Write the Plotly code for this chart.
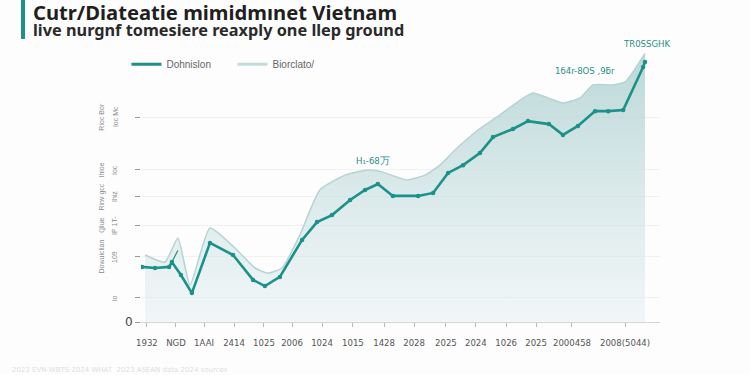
import plotly.graph_objects as go

# ---- data ----
tick_labels = ["1932", "NGD", "1AAI", "2414", "1025", "2006", "1024", "1015",
               "1428", "2028", "2025", "2024", "1026", "2025", "2000458", "2008(5044)"]
tick_pos = [0, 0.93, 1.83, 2.79, 3.75, 4.65, 5.61, 6.60, 7.60, 8.56, 9.58, 10.54,
            11.51, 12.47, 13.62, 15.32]

main_x = [-0.16, 0.26, 0.71, 0.80, 1.09, 1.44, 2.02, 2.76, 3.40, 3.78, 4.26, 4.97,
          5.45, 5.93, 6.51, 6.99, 7.40, 7.88, 8.69, 9.17, 9.65, 10.13, 10.67, 11.09,
          11.73, 12.21, 12.88, 13.33, 13.81, 14.36, 14.78, 15.26, 15.90, 15.96]
main_y = [20.4, 20.0, 20.4, 22.2, 17.4, 10.7, 29.3, 24.8, 15.6, 13.3, 16.7, 30.4,
          37.0, 39.6, 45.2, 48.9, 51.1, 46.7, 46.7, 47.8, 55.2, 58.1, 62.6, 68.5,
          71.5, 74.4, 73.3, 69.3, 72.6, 78.1, 78.1, 78.5, 94.4, 96.3]

band_x = [-0.06, 0.58, 0.99, 1.38, 2.02, 2.82, 3.46, 3.88, 4.33, 4.90, 5.54, 6.35,
          7.08, 7.53, 8.33, 8.91, 9.39, 9.87, 10.61, 11.31, 11.96, 12.37, 12.85,
          13.33, 13.88, 14.29, 14.90, 15.32, 15.96]
band_y = [24.8, 22.2, 31.1, 13.7, 34.8, 27.4, 20.0, 18.1, 20.0, 32.2, 48.9, 54.4,
          56.3, 55.6, 52.6, 54.4, 58.1, 63.7, 71.1, 76.7, 82.2, 84.8, 83.0, 81.1,
          83.0, 87.8, 87.8, 88.9, 99.5]

thin_x = [0.80, 0.99]
thin_y = [22.2, 26.5]

ylab_vals = [75.9, 56.3, 46.3, 35.6, 24.1, 8.9]
ylab_col1 = ["Rioc Bor", "Ihioe", "Rinv gcc", "ℚilue", "Dowulclian", ""]
ylab_col2 = ["Ioc Mc", "Ioc", "Ihiz", "IP 1T-", "109", "lo"]

series_names = ["Dohnislon", "Biorclato/"]

title_text = "Cutr/Diateatie mimidmınet Vietnam"
subtitle_text = "live nurgnf tomesiere reaxply one llep ground"

notes = [("H₁-68万", 7.24, 0.60), ("1б4r-8OS ,9ƃr", 14.04, 0.933), ("TR0SSGHK", 16.03, 1.03)]

TEAL = "#1b9189"
LIGHT = "#b5d3d3"

fig = go.Figure()

fig.add_trace(go.Scatter(
    x=band_x, y=band_y, mode="lines", name=series_names[1], showlegend=False,
    line=dict(color=LIGHT, width=1.5, shape="spline", smoothing=0.5),
    fill="tozeroy",
    fillgradient=dict(type="vertical",
                      colorscale=[[0, "rgba(228,239,241,0.5)"],
                                  [1, "rgba(165,203,203,0.75)"]]),
))
fig.add_trace(go.Scatter(
    x=thin_x, y=thin_y, mode="lines", showlegend=False,
    line=dict(color=TEAL, width=1.2),
))
fig.add_trace(go.Scatter(
    x=main_x, y=main_y, mode="lines+markers", name=series_names[0], showlegend=False,
    line=dict(color=TEAL, width=2.6),
    marker=dict(color=TEAL, size=4.5),
))
# legend entries (line-only keys)
fig.add_trace(go.Scatter(x=[None], y=[None], mode="lines", name=series_names[0],
                         line=dict(color=TEAL, width=3)))
fig.add_trace(go.Scatter(x=[None], y=[None], mode="lines", name=series_names[1],
                         line=dict(color="#c2dcdc", width=3)))

annotations = []
lab_font = dict(size=7, color="#8a8a8a", family="Liberation Sans")
for v, c1, c2 in zip(ylab_vals, ylab_col1, ylab_col2):
    if c1:
        annotations.append(dict(xref="paper", yref="y", x=-0.076, y=v, text=c1,
                                xanchor="center", yanchor="middle",
                                textangle=-90, showarrow=False, font=lab_font))
    annotations.append(dict(xref="paper", yref="y", x=-0.050, y=v, text=c2,
                            xanchor="center", yanchor="middle",
                            textangle=-90, showarrow=False, font=lab_font))

for t, xv, yv in notes:
    annotations.append(dict(xref="x", yref="paper", x=xv, y=yv, text=t, showarrow=False,
                            xanchor="center", yanchor="middle",
                            font=dict(size=9.5, color="#2a8f8a", family="DejaVu Sans Condensed")))

# title + subtitle (screen-pixel positions converted to paper fractions)
annotations.append(dict(xref="paper", yref="paper", x=(31 - 141) / 519, y=(322 - 12) / 270,
                        text="<b>" + title_text + "</b>", xanchor="left", yanchor="middle",
                        showarrow=False,
                        font=dict(size=20.2, color="#1f1f1f", family="Noto Sans")))
annotations.append(dict(xref="paper", yref="paper", x=(31 - 141) / 519, y=(322 - 30.5) / 270,
                        text="<b>" + subtitle_text + "</b>", xanchor="left", yanchor="middle",
                        showarrow=False,
                        font=dict(size=16.3, color="#2a2a2a", family="Noto Sans")))
annotations.append(dict(xref="paper", yref="paper", x=(10 - 141) / 519, y=(322 - 370) / 270,
                        text="2023 EVN-WBTS 2024 WHAT  2023 ASEAN data 2024 sources",
                        xanchor="left", yanchor="middle", showarrow=False,
                        font=dict(size=7, color="#dedede", family="DejaVu Sans")))

fig.update_layout(
    width=750, height=375,
    margin=dict(l=141, r=90, t=52, b=53),
    paper_bgcolor="#fdfdfd", plot_bgcolor="#fdfdfd",
    showlegend=True,
    legend=dict(orientation="h", x=-0.028, y=0.955, xanchor="left", yanchor="middle",
                font=dict(size=10, color="#666", family="Liberation Sans"),
                entrywidth=61, bgcolor="rgba(0,0,0,0)"),
    xaxis=dict(range=[-0.19, 16.44], tickvals=tick_pos, ticktext=tick_labels,
               showgrid=False, zeroline=False, showline=True, linecolor="#d5d5d5",
               ticks="outside", ticklen=4, tickcolor="#bbb", tickangle=0,
               ticklabelstandoff=8,
               tickfont=dict(size=9.5, color="#555", family="DejaVu Sans Condensed")),
    yaxis=dict(range=[0, 100], tickvals=[0] + ylab_vals, ticktext=["0"] + [""] * len(ylab_vals),
               showgrid=True, gridcolor="#f0f2f2", zeroline=False, showline=False,
               ticks="outside", ticklen=5, tickcolor="#999",
               tickfont=dict(size=12, color="#444", family="DejaVu Sans")),
    annotations=annotations,
)

fig.add_shape(type="rect", xref="paper", yref="paper",
              x0=(21 - 141) / 519, x1=(25 - 141) / 519,
              y0=(322 - 39) / 270, y1=(322 - 0) / 270,
              fillcolor=TEAL, line=dict(width=0))

# remove the browser's default 8px body margin so the figure fills the window
fig.write_html("out.html", config={"displayModeBar": False},
               post_script="document.body.style.margin='0';")
